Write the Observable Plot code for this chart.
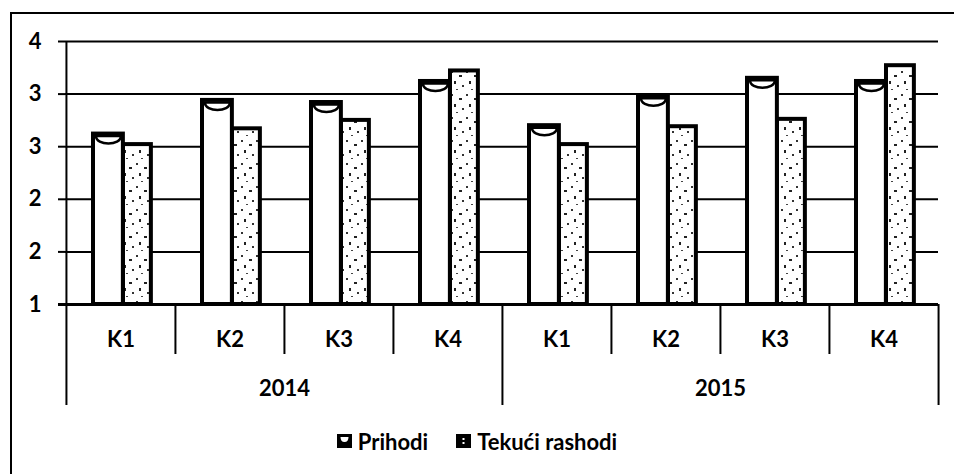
<!DOCTYPE html>
<html>
<head>
<meta charset="utf-8">
<script src="https://cdn.jsdelivr.net/npm/d3@7"></script>
<script src="https://cdn.jsdelivr.net/npm/@observablehq/plot@0.6"></script>
<style>
  html, body { margin: 0; padding: 0; background: #fff; }
  #wrap { position: relative; width: 954px; height: 474px; overflow: hidden; font-family: Lato, "DejaVu Sans", sans-serif; }
  #border { position: absolute; left: 10px; top: 12px; width: 1000px; height: 1000px; border: 2px solid #000; box-sizing: border-box; }
  #chart { position: absolute; left: 0; top: 0; }
  #legend { position: absolute; left: 0; top: 426px; width: 954px; text-align: center; font-size: 22px; font-weight: bold; color: #000; }
  #legend .item { display: inline-flex; align-items: center; margin: 0 14px; }
  #legend svg { margin-right: 6px; }
</style>
</head>
<body>
<div id="wrap">
  <div id="border"></div>
  <div id="chart"></div>
  <div id="legend"></div>
</div>
<script>
// ---- data ----
const years = ["2014", "2015"];
const quarters = ["K1", "K2", "K3", "K4"];
const seriesNames = ["Prihodi", "Tekući rashodi"];
const prihodi = [2.62, 2.94, 2.92, 3.12, 2.70, 2.98, 3.15, 3.12];
const tekuciRashodi = [2.52, 2.67, 2.75, 3.22, 2.52, 2.69, 2.76, 3.27];
const yTicks = [1, 1.5, 2, 2.5, 3, 3.5];
const yDomain = [1, 3.5];

// ---- table built from the arrays ----
const rows = years.flatMap((yr, yi) => quarters.map((q, qi) => {
  const i = yi * quarters.length + qi;
  return { key: yr + " " + q, year: yr, quarter: q, prihodi: prihodi[i], tekuci: tekuciRashodi[i] };
}));
const keys = rows.map(d => d.key);
const yearMid = years.map(yr => ({ year: yr, key: yr + " " + quarters[1] }));

// ---- layout ----
const W = 954, H = 420;
const mL = 65, mR = 16, mT = 41, mB = 116;
const plotH = H - mT - mB;
const step = (W - mL - mR) / keys.length;
const base = yDomain[0];

// cylinder-top bowl symbol
const bowl = {
  draw(ctx) {
    const w = 12.5, d = 10;
    ctx.moveTo(-w, 0);
    ctx.lineTo(w, 0);
    ctx.bezierCurveTo(w, d, -w, d, -w, 0);
    ctx.closePath();
  }
};

const font = "Lato, 'DejaVu Sans', sans-serif";

const chart = Plot.plot({
  width: W,
  height: H,
  marginLeft: mL,
  marginRight: mR,
  marginTop: mT,
  marginBottom: mB,
  style: { fontFamily: font, fontSize: "22px", fontWeight: "bold", color: "#000", background: "transparent", overflow: "visible" },
  x: { type: "band", domain: keys, padding: 0, axis: null },
  y: { domain: yDomain, axis: null },
  marks: [
    Plot.gridY(yTicks, { stroke: "#000", strokeOpacity: 1, strokeWidth: 2 }),
    Plot.axisY(yTicks, {
      tickFormat: d => String(Math.round(d)),
      tickSize: 7, tickPadding: 17, stroke: "#000", strokeWidth: 2,
      fontSize: 22, fontWeight: "bold", label: null
    }),
    // bars
    Plot.barY(rows, {
      x: "key", y1: () => base, y2: "prihodi",
      fill: "#fff", stroke: "#000", strokeWidth: 4,
      insetLeft: 27, insetRight: step - 57
    }),
    Plot.barY(rows, {
      x: "key", y1: () => base, y2: "tekuci",
      fill: "url(#speckle)", stroke: "#000", strokeWidth: 4,
      insetLeft: 57, insetRight: step - 85
    }),
    Plot.dot(rows, {
      x: "key", y: "prihodi", symbol: bowl, r: 5,
      fill: "#fff", stroke: "#000", strokeWidth: 2.5,
      dx: 42 - step / 2, dy: 2
    }),
    // baseline
    Plot.ruleY([base], { stroke: "#000", strokeWidth: 3, insetLeft: -7 }),
    // left axis line + year separators
    Plot.ruleX(rows.filter(d => d.quarter === quarters[0] && d.year === years[0]), {
      x: "key", dx: -step / 2, stroke: "#000", strokeWidth: 2, insetBottom: -101
    }),
    Plot.ruleX(rows.filter(d => d.quarter === quarters[0] && d.year !== years[0]), {
      x: "key", dx: -step / 2, stroke: "#000", strokeWidth: 2, insetTop: plotH, insetBottom: -101
    }),
    Plot.ruleX(rows.slice(-1), {
      x: "key", dx: step / 2, stroke: "#000", strokeWidth: 2, insetTop: plotH, insetBottom: -101
    }),
    // quarter separators
    Plot.ruleX(rows.filter(d => d.quarter !== quarters[0]), {
      x: "key", dx: -step / 2, stroke: "#000", strokeWidth: 2, insetTop: plotH, insetBottom: -50
    }),
    // category labels
    Plot.text(rows, {
      x: "key", text: "quarter", frameAnchor: "bottom", dy: 35, lineAnchor: "middle",
      fontSize: 22, fontWeight: "bold", fill: "#000"
    }),
    Plot.text(yearMid, {
      x: "key", text: "year", frameAnchor: "bottom", dx: step / 2, dy: 84, lineAnchor: "middle",
      fontSize: 22, fontWeight: "bold", fill: "#000"
    })
  ]
});

// speckle texture for the second series
const svgNS = "http://www.w3.org/2000/svg";
const defs = document.createElementNS(svgNS, "defs");
defs.innerHTML = `
  <pattern id="speckle" patternUnits="userSpaceOnUse" width="15" height="23">
    <rect width="15" height="23" fill="#fff"/>
    <rect x="1" y="2" width="2" height="2" fill="#333"/>
    <rect x="9" y="6" width="3" height="2" fill="#222"/>
    <rect x="4" y="12" width="2" height="3" fill="#222"/>
    <rect x="12" y="16" width="2" height="2" fill="#333"/>
    <rect x="6" y="20" width="2" height="1" fill="#444"/>
  </pattern>`;
chart.insertBefore(defs, chart.firstChild);
document.getElementById("chart").appendChild(chart);

// legend
const legendMarks = [
  `<svg width="15" height="14" viewBox="0 0 15 14"><rect width="15" height="14" fill="#000"/><path d="M3.5 3 H11.5 Q11.5 8 7.5 8 Q3.5 8 3.5 3Z" fill="#fff"/></svg>`,
  `<svg width="15" height="14" viewBox="0 0 15 14"><rect width="15" height="14" fill="#000"/><rect x="6.5" y="4" width="2" height="2" fill="#fff"/><rect x="6.5" y="8" width="2" height="2" fill="#fff"/></svg>`
];
document.getElementById("legend").innerHTML = seriesNames
  .map((s, i) => `<span class="item">${legendMarks[i]}<span>${s}</span></span>`).join("");
</script>
</body>
</html>
